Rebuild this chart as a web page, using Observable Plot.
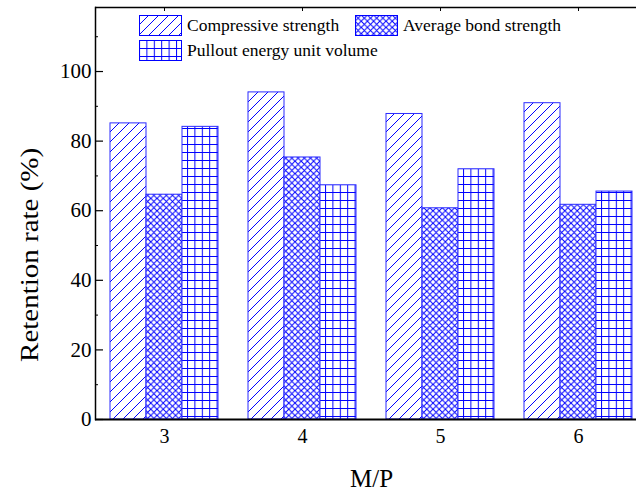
<!DOCTYPE html>
<html>
<head>
<meta charset="utf-8">
<script src="https://cdn.jsdelivr.net/npm/d3@7"></script>
<script src="https://cdn.jsdelivr.net/npm/@observablehq/plot@0.6"></script>
<style>
  html, body { margin: 0; padding: 0; background: white; overflow: hidden; }
  #wrap { position: relative; width: 636px; height: 491px; font-family: "Liberation Serif", serif; }
  .leg { position: absolute; display: flex; align-items: center; font-family: "Liberation Serif", serif; font-size: 17.5px; color: #000; white-space: nowrap; }
  .leg svg { margin-right: 5px; display: block; }
</style>
</head>
<body>
<div id="wrap"></div>
<script>
// ---- data ----
const groups = ["3", "4", "5", "6"];
const series = ["Compressive strength", "Average bond strength", "Pullout energy unit volume"];
const compressive = [85.1, 94.0, 87.8, 90.9];
const bond = [64.6, 75.3, 60.7, 61.7];
const pullout = [84.1, 67.3, 71.9, 65.5];
const yTicks = [0, 20, 40, 60, 80, 100];
const yMinor = [10, 30, 50, 70, 90, 110];
const yMax = 118.4;
const yTitle = "Retention rate (%)";
const xTitle = "M/P";
const patternIds = ["pHatch", "pCross", "pGrid"];

const values = [compressive, bond, pullout];
const data = groups.flatMap((g, i) => series.map((s, j) => ({group: g, series: s, value: values[j][i]})));

const BLUE = "#0000ff";

const chart = Plot.plot({
  width: 636,
  height: 491,
  marginLeft: 93,
  marginRight: -12,
  marginTop: 7,
  marginBottom: 72,
  style: {fontFamily: "Liberation Serif, serif", fontSize: "20px", background: "white", color: "#000", overflow: "visible"},
  fx: {domain: groups, padding: 0, label: null, axis: null},
  x: {domain: series, paddingInner: 0, paddingOuter: 0.375, axis: null},
  y: {domain: [0, yMax], axis: null},
  color: {domain: series, range: patternIds.map(id => `url(#${id})`)},
  marks: [
    Plot.barY(data, {fx: "group", x: "series", y: "value", fill: "series", stroke: "#2a2aff", strokeWidth: 1}),
    Plot.ruleY([0], {stroke: "#000", strokeWidth: 2}),
    Plot.ruleY([yMax], {stroke: "#000", strokeWidth: 1.5}),
    Plot.frame({anchor: "left", facetAnchor: "left", stroke: "#000", strokeWidth: 1.5}),
    Plot.axisY({ticks: yTicks, tickSize: 8, dx: 8, tickFormat: () => "", label: null, strokeWidth: 1.2}),
    Plot.axisY({ticks: yMinor, tickSize: 3, dx: 3, tickFormat: () => "", label: null}),
    Plot.axisY({ticks: yTicks, tickSize: 0, tickPadding: 4, fontSize: 21, label: null}),
    Plot.text([yTitle], {text: d => d, y: () => 47.3, frameAnchor: "left", dx: -66, rotate: -90, textAnchor: "middle", fontSize: 25, facetAnchor: "left"}),
    Plot.axisFx({anchor: "top", tickSize: 3, dy: 3, tickFormat: () => "", label: null}),
    Plot.axisFx({anchor: "bottom", tickSize: 0, tickPadding: 9, fontSize: 20, label: null}),
    Plot.axisFx({anchor: "bottom", tickSize: 0, tickFormat: () => "", fontSize: 25, label: xTitle, labelAnchor: "center", labelOffset: 67, labelArrow: "none"})
  ]
});

// pattern definitions
const svgNS = "http://www.w3.org/2000/svg";
function addPatterns(svg) {
  const defs = document.createElementNS(svgNS, "defs");
  defs.innerHTML = `
    <pattern id="pHatch" patternUnits="userSpaceOnUse" width="10" height="10">
      <rect width="10" height="10" fill="white"/>
      <path d="M-2.5,2.5 L2.5,-2.5 M0,10 L10,0 M7.5,12.5 L12.5,7.5" stroke="${BLUE}" stroke-width="1"/>
    </pattern>
    <pattern id="pCross" patternUnits="userSpaceOnUse" width="6.2" height="6.2">
      <rect width="6.2" height="6.2" fill="white"/>
      <path d="M0,0 L6.2,6.2 M6.2,0 L0,6.2" stroke="${BLUE}" stroke-width="1"/>
    </pattern>
    <pattern id="pGrid" patternUnits="userSpaceOnUse" width="7.4" height="8">
      <rect width="7.4" height="8" fill="white"/>
      <path d="M0.5,0 L0.5,8 M0,0.5 L7.4,0.5" stroke="${BLUE}" stroke-width="1"/>
    </pattern>`;
  svg.insertBefore(defs, svg.firstChild);
}
const svgEl = chart.tagName.toLowerCase() === "svg" ? chart : chart.querySelector("svg");
addPatterns(svgEl);

// stretch the rotated y title along its length, as in the reference
svgEl.querySelectorAll("text").forEach(t => {
  if (t.textContent === yTitle) {
    const tr = t.getAttribute("transform");
    if (tr && tr.includes("rotate")) t.setAttribute("transform", tr + " scale(1.16,1)");
  }
});

const wrap = document.getElementById("wrap");
wrap.appendChild(chart);

// legend (inside plot area, top)
const legendPos = [[139, 15], [355, 15], [139, 40]];
series.forEach((s, i) => {
  const div = document.createElement("div");
  div.className = "leg";
  div.style.left = legendPos[i][0] + "px";
  div.style.top = legendPos[i][1] + "px";
  div.style.height = "21px";
  div.innerHTML = `<svg width="43" height="21"><rect x="0.5" y="0.5" width="42" height="20" fill="url(#${patternIds[i]})" stroke="${BLUE}" stroke-width="1"/></svg><span>${s}</span>`;
  wrap.appendChild(div);
});
</script>
</body>
</html>
